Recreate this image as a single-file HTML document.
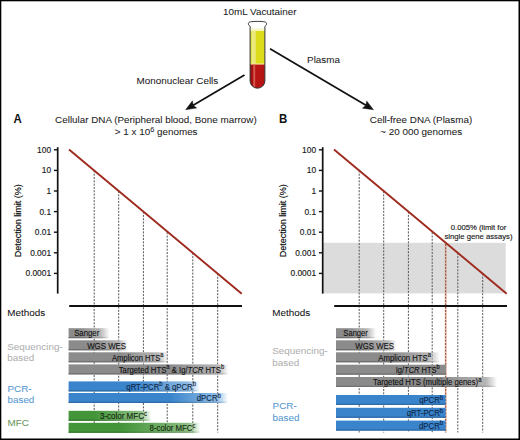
<!DOCTYPE html><html><head><meta charset="utf-8"><style>html,body{margin:0;padding:0;background:#fff;}svg{display:block;}text{font-family:"Liberation Sans", sans-serif;}</style></head><body>
<svg width="520" height="440" viewBox="0 0 520 440">
<defs>
<linearGradient id="redg" x1="0" x2="1" y1="0" y2="0"><stop offset="0" stop-color="#8a0c0c" stop-opacity="0.9"/><stop offset="0.18" stop-color="#8a0c0c" stop-opacity="0.2"/><stop offset="0.5" stop-color="#c41818" stop-opacity="0"/><stop offset="1" stop-color="#a01010" stop-opacity="0.3"/></linearGradient>
</defs>
<rect x="0" y="0" width="520" height="440" fill="#fff"/>
<text transform="translate(259.8,15.0) scale(1.05,1)" font-size="9.4" text-anchor="middle" fill="#1a1a1a" font-weight="normal"  stroke="#1a1a1a" stroke-width="0.05">10mL Vacutainer</text>
<text transform="translate(177.4,84) scale(1.05,1)" font-size="9.4" text-anchor="middle" fill="#1a1a1a" font-weight="normal"  stroke="#1a1a1a" stroke-width="0.05">Mononuclear Cells</text>
<text transform="translate(323.5,63) scale(1.05,1)" font-size="9.4" text-anchor="middle" fill="#1a1a1a" font-weight="normal"  stroke="#1a1a1a" stroke-width="0.05">Plasma</text>
<g>
<clipPath id="tubeclip"><path d="M250.1,24 L250.1,80.80000000000001 A7.3999999999999915,7.3999999999999915 0 0 0 264.9,80.80000000000001 L264.9,24 Z"/></clipPath>
<path d="M250.1,80.80000000000001 L250.1,26.8 C250.1,25.6 248.4,25.4 248.4,23.8 C248.4,21.9 250.6,21.4 257.5,21.4 C264.4,21.4 266.6,21.9 266.6,23.8 C266.6,25.4 264.9,25.6 264.9,26.8 L264.9,80.80000000000001 A7.3999999999999915,7.3999999999999915 0 0 1 250.1,80.80000000000001 Z" fill="#fff"/>
<g clip-path="url(#tubeclip)">
<rect x="250.1" y="28.2" width="14.799999999999983" height="3" fill="#f6f6cc"/>
<rect x="250.1" y="30.9" width="14.799999999999983" height="34" fill="#dcdc1a"/>
<rect x="251.5" y="30.9" width="4.2" height="33" fill="#eaea80"/>
<rect x="250.1" y="64" width="14.799999999999983" height="30" fill="#b81414"/>
<rect x="250.1" y="64" width="14.799999999999983" height="30" fill="url(#redg)"/>
<rect x="250.1" y="63.4" width="14.799999999999983" height="1.2" fill="#f0ea90"/>
<rect x="253.3" y="64.6" width="1.9" height="24" fill="#d45a50"/>
<path d="M250.1,82 A7.3999999999999915,7.3999999999999915 0 0 0 264.9,82 L264.9,90 L250.1,90 Z" fill="#8a0c0c" opacity="0.35"/>
</g>
<path d="M250.1,80.80000000000001 L250.1,26.8 C250.1,25.6 248.4,25.4 248.4,23.8 C248.4,21.9 250.6,21.4 257.5,21.4 C264.4,21.4 266.6,21.9 266.6,23.8 C266.6,25.4 264.9,25.6 264.9,26.8 L264.9,80.80000000000001 A7.3999999999999915,7.3999999999999915 0 0 1 250.1,80.80000000000001 Z" fill="none" stroke="#333" stroke-width="1.0" stroke-linejoin="round"/>
</g>
<line x1="244.5" y1="75" x2="193.18" y2="105.23" stroke="#111" stroke-width="1.7"/>
<polygon points="185.6,109.7 192.43,100.80 193.18,105.23 196.69,108.04" fill="#111" stroke="#111" stroke-width="0.4" stroke-linejoin="round"/>
<line x1="270" y1="48.7" x2="365.92" y2="105.33" stroke="#111" stroke-width="1.7"/>
<polygon points="373.5,109.8 362.41,108.13 365.92,105.33 366.68,100.90" fill="#111" stroke="#111" stroke-width="0.4" stroke-linejoin="round"/>
<text transform="translate(13.6,122.8) scale(0.91,1)" font-size="12.6" text-anchor="start" fill="#111" font-weight="bold" >A</text>
<text transform="translate(278.9,122.8) scale(0.91,1)" font-size="12.6" text-anchor="start" fill="#111" font-weight="bold" >B</text>
<text transform="translate(155.9,123.1) scale(1.05,1)" font-size="9.4" text-anchor="middle" fill="#1a1a1a" font-weight="normal"  stroke="#1a1a1a" stroke-width="0.05">Cellular DNA (Peripheral blood, Bone marrow)</text>
<text transform="translate(156.2,134.5) scale(1.05,1)" font-size="9.4" text-anchor="middle" fill="#1a1a1a" font-weight="normal"  stroke="#1a1a1a" stroke-width="0.05">&gt; 1 x 10<tspan font-size="7" dy="-3">6</tspan><tspan dy="3"> genomes</tspan></text>
<text transform="translate(421.0,123.1) scale(1.05,1)" font-size="9.4" text-anchor="middle" fill="#1a1a1a" font-weight="normal"  stroke="#1a1a1a" stroke-width="0.05">Cell-free DNA (Plasma)</text>
<text transform="translate(421.2,134.5) scale(1.05,1)" font-size="9.4" text-anchor="middle" fill="#1a1a1a" font-weight="normal"  stroke="#1a1a1a" stroke-width="0.05">~ 20 000 genomes</text>
<line x1="94.2" y1="170.4" x2="94.2" y2="432.5" stroke="#555" stroke-width="1.0" stroke-dasharray="2 1.3"/>
<line x1="118.7" y1="191.0" x2="118.7" y2="432.5" stroke="#555" stroke-width="1.0" stroke-dasharray="2 1.3"/>
<line x1="143.4" y1="211.6" x2="143.4" y2="432.5" stroke="#555" stroke-width="1.0" stroke-dasharray="2 1.3"/>
<line x1="167.2" y1="232.2" x2="167.2" y2="432.5" stroke="#555" stroke-width="1.0" stroke-dasharray="2 1.3"/>
<line x1="192.8" y1="252.8" x2="192.8" y2="432.5" stroke="#555" stroke-width="1.0" stroke-dasharray="2 1.3"/>
<line x1="217.7" y1="273.4" x2="217.7" y2="432.5" stroke="#555" stroke-width="1.0" stroke-dasharray="2 1.3"/>
<line x1="57.7" y1="147.2" x2="57.7" y2="293.6" stroke="#111" stroke-width="1.7"/>
<line x1="53.900000000000006" y1="149.8" x2="57.7" y2="149.8" stroke="#111" stroke-width="1.4"/>
<text x="51.1" y="152.8" font-size="8.4" text-anchor="end" fill="#1a1a1a" font-weight="normal" stroke="#1a1a1a" stroke-width="0.15">100</text>
<line x1="53.900000000000006" y1="170.4" x2="57.7" y2="170.4" stroke="#111" stroke-width="1.4"/>
<text x="51.1" y="173.4" font-size="8.4" text-anchor="end" fill="#1a1a1a" font-weight="normal" stroke="#1a1a1a" stroke-width="0.15">10</text>
<line x1="53.900000000000006" y1="191.0" x2="57.7" y2="191.0" stroke="#111" stroke-width="1.4"/>
<text x="51.1" y="194.0" font-size="8.4" text-anchor="end" fill="#1a1a1a" font-weight="normal" stroke="#1a1a1a" stroke-width="0.15">1</text>
<line x1="53.900000000000006" y1="211.6" x2="57.7" y2="211.6" stroke="#111" stroke-width="1.4"/>
<text x="51.1" y="214.6" font-size="8.4" text-anchor="end" fill="#1a1a1a" font-weight="normal" stroke="#1a1a1a" stroke-width="0.15">0.1</text>
<line x1="53.900000000000006" y1="232.2" x2="57.7" y2="232.2" stroke="#111" stroke-width="1.4"/>
<text x="51.1" y="235.2" font-size="8.4" text-anchor="end" fill="#1a1a1a" font-weight="normal" stroke="#1a1a1a" stroke-width="0.15">0.01</text>
<line x1="53.900000000000006" y1="252.8" x2="57.7" y2="252.8" stroke="#111" stroke-width="1.4"/>
<text x="51.1" y="255.8" font-size="8.4" text-anchor="end" fill="#1a1a1a" font-weight="normal" stroke="#1a1a1a" stroke-width="0.15">0.001</text>
<line x1="53.900000000000006" y1="273.4" x2="57.7" y2="273.4" stroke="#111" stroke-width="1.4"/>
<text x="51.1" y="276.4" font-size="8.4" text-anchor="end" fill="#1a1a1a" font-weight="normal" stroke="#1a1a1a" stroke-width="0.15">0.0001</text>
<text x="0" y="0" font-size="9.6" text-anchor="middle" fill="#000" font-weight="normal" transform="translate(21.1,220.7) rotate(-90) scale(0.94,1)" stroke="#000" stroke-width="0.14">Detection limit (%)</text>
<line x1="69" y1="149.5" x2="241.7" y2="293.7" stroke="#9e2a1e" stroke-width="1.9"/>
<line x1="69.2" y1="306" x2="242" y2="306" stroke="#111" stroke-width="1.85"/>
<text transform="translate(7.3,316.4) scale(1.05,1)" font-size="9.4" text-anchor="start" fill="#111" font-weight="normal"  stroke="#111" stroke-width="0.05">Methods</text>
<rect x="322.7" y="242.8" width="183.0" height="50.599999999999966" fill="#dcdcdc"/>
<line x1="359.2" y1="170.4" x2="359.2" y2="432.5" stroke="#555" stroke-width="1.0" stroke-dasharray="2 1.3"/>
<line x1="383.7" y1="191.0" x2="383.7" y2="432.5" stroke="#555" stroke-width="1.0" stroke-dasharray="2 1.3"/>
<line x1="408.4" y1="211.6" x2="408.4" y2="432.5" stroke="#555" stroke-width="1.0" stroke-dasharray="2 1.3"/>
<line x1="432.2" y1="232.2" x2="432.2" y2="432.5" stroke="#555" stroke-width="1.0" stroke-dasharray="2 1.3"/>
<line x1="457.8" y1="252.8" x2="457.8" y2="432.5" stroke="#555" stroke-width="1.0" stroke-dasharray="2 1.3"/>
<line x1="482.7" y1="273.4" x2="482.7" y2="432.5" stroke="#555" stroke-width="1.0" stroke-dasharray="2 1.3"/>
<line x1="445.7" y1="244" x2="445.7" y2="432.5" stroke="#eea080" stroke-width="2.0" stroke-opacity="0.6"/>
<line x1="445.7" y1="244" x2="445.7" y2="432.5" stroke="#7a4a40" stroke-width="1.0" stroke-dasharray="2 1.3"/>
<line x1="322.7" y1="147.2" x2="322.7" y2="293.6" stroke="#111" stroke-width="1.7"/>
<line x1="318.9" y1="149.8" x2="322.7" y2="149.8" stroke="#111" stroke-width="1.4"/>
<text x="316.1" y="152.8" font-size="8.4" text-anchor="end" fill="#1a1a1a" font-weight="normal" stroke="#1a1a1a" stroke-width="0.15">100</text>
<line x1="318.9" y1="170.4" x2="322.7" y2="170.4" stroke="#111" stroke-width="1.4"/>
<text x="316.1" y="173.4" font-size="8.4" text-anchor="end" fill="#1a1a1a" font-weight="normal" stroke="#1a1a1a" stroke-width="0.15">10</text>
<line x1="318.9" y1="191.0" x2="322.7" y2="191.0" stroke="#111" stroke-width="1.4"/>
<text x="316.1" y="194.0" font-size="8.4" text-anchor="end" fill="#1a1a1a" font-weight="normal" stroke="#1a1a1a" stroke-width="0.15">1</text>
<line x1="318.9" y1="211.6" x2="322.7" y2="211.6" stroke="#111" stroke-width="1.4"/>
<text x="316.1" y="214.6" font-size="8.4" text-anchor="end" fill="#1a1a1a" font-weight="normal" stroke="#1a1a1a" stroke-width="0.15">0.1</text>
<line x1="318.9" y1="232.2" x2="322.7" y2="232.2" stroke="#111" stroke-width="1.4"/>
<text x="316.1" y="235.2" font-size="8.4" text-anchor="end" fill="#1a1a1a" font-weight="normal" stroke="#1a1a1a" stroke-width="0.15">0.01</text>
<line x1="318.9" y1="252.8" x2="322.7" y2="252.8" stroke="#111" stroke-width="1.4"/>
<text x="316.1" y="255.8" font-size="8.4" text-anchor="end" fill="#1a1a1a" font-weight="normal" stroke="#1a1a1a" stroke-width="0.15">0.001</text>
<line x1="318.9" y1="273.4" x2="322.7" y2="273.4" stroke="#111" stroke-width="1.4"/>
<text x="316.1" y="276.4" font-size="8.4" text-anchor="end" fill="#1a1a1a" font-weight="normal" stroke="#1a1a1a" stroke-width="0.15">0.0001</text>
<text x="0" y="0" font-size="9.6" text-anchor="middle" fill="#000" font-weight="normal" transform="translate(286.1,220.7) rotate(-90) scale(0.94,1)" stroke="#000" stroke-width="0.14">Detection limit (%)</text>
<line x1="334" y1="149.5" x2="506.7" y2="293.7" stroke="#9e2a1e" stroke-width="1.9"/>
<line x1="334.2" y1="306" x2="507" y2="306" stroke="#111" stroke-width="1.85"/>
<text transform="translate(272.3,316.4) scale(1.05,1)" font-size="9.4" text-anchor="start" fill="#111" font-weight="normal"  stroke="#111" stroke-width="0.05">Methods</text>
<text x="478.5" y="229.5" font-size="7.7" text-anchor="middle" fill="#1a1a1a" font-weight="normal" stroke="#1a1a1a" stroke-width="0.15">0.005% (limit for</text>
<text x="478.5" y="238.6" font-size="7.7" text-anchor="middle" fill="#1a1a1a" font-weight="normal" stroke="#1a1a1a" stroke-width="0.15">single gene assays)</text>
<text transform="translate(7.3,349.6) scale(1.05,1)" font-size="9.4" text-anchor="start" fill="#b0b0b0" font-weight="normal"  stroke="#b0b0b0" stroke-width="0.05">Sequencing-</text>
<text transform="translate(7.3,360.7) scale(1.05,1)" font-size="9.4" text-anchor="start" fill="#b0b0b0" font-weight="normal"  stroke="#b0b0b0" stroke-width="0.05">based</text>
<text transform="translate(7.5,392.3) scale(1.05,1)" font-size="9.4" text-anchor="start" fill="#5597d2" font-weight="normal"  stroke="#5597d2" stroke-width="0.05">PCR-</text>
<text transform="translate(7.5,403.4) scale(1.05,1)" font-size="9.4" text-anchor="start" fill="#5597d2" font-weight="normal"  stroke="#5597d2" stroke-width="0.05">based</text>
<text transform="translate(7.5,425.6) scale(1.05,1)" font-size="9.4" text-anchor="start" fill="#68965c" font-weight="normal"  stroke="#68965c" stroke-width="0.05">MFC</text>
<text transform="translate(272.3,354.2) scale(1.05,1)" font-size="9.4" text-anchor="start" fill="#b0b0b0" font-weight="normal"  stroke="#b0b0b0" stroke-width="0.05">Sequencing-</text>
<text transform="translate(272.3,365.5) scale(1.05,1)" font-size="9.4" text-anchor="start" fill="#b0b0b0" font-weight="normal"  stroke="#b0b0b0" stroke-width="0.05">based</text>
<text transform="translate(272.6,409) scale(1.05,1)" font-size="9.4" text-anchor="start" fill="#5597d2" font-weight="normal"  stroke="#5597d2" stroke-width="0.05">PCR-</text>
<text transform="translate(272.6,420.6) scale(1.05,1)" font-size="9.4" text-anchor="start" fill="#5597d2" font-weight="normal"  stroke="#5597d2" stroke-width="0.05">based</text>
<defs><linearGradient id="g1" x1="0" x2="1" y1="0" y2="0"><stop offset="0" stop-color="#8b8b8b"/><stop offset="0.279" stop-color="#8b8b8b"/><stop offset="0.768" stop-color="#b6b6b6"/><stop offset="1" stop-color="#b6b6b6" stop-opacity="0"/></linearGradient>
<linearGradient id="g1d" x1="0" x2="1" y1="0" y2="0"><stop offset="0" stop-color="#717171"/><stop offset="0.279" stop-color="#717171"/><stop offset="0.768" stop-color="#a0a0a0"/><stop offset="1" stop-color="#a0a0a0" stop-opacity="0"/></linearGradient></defs>
<rect x="68.6" y="328.2" width="40.900000000000006" height="10" fill="url(#g1)"/>
<rect x="68.6" y="336.90" width="40.900000000000006" height="1.3" fill="url(#g1d)"/>
<text x="74.15" y="336.40" font-size="8.6" textLength="25.10" lengthAdjust="spacingAndGlyphs" fill="#111" stroke="#111" stroke-width="0.12">Sanger</text>
<defs><linearGradient id="g2" x1="0" x2="1" y1="0" y2="0"><stop offset="0" stop-color="#8b8b8b"/><stop offset="0.444" stop-color="#8b8b8b"/><stop offset="0.848" stop-color="#b6b6b6"/><stop offset="1" stop-color="#b6b6b6" stop-opacity="0"/></linearGradient>
<linearGradient id="g2d" x1="0" x2="1" y1="0" y2="0"><stop offset="0" stop-color="#717171"/><stop offset="0.444" stop-color="#717171"/><stop offset="0.848" stop-color="#a0a0a0"/><stop offset="1" stop-color="#a0a0a0" stop-opacity="0"/></linearGradient></defs>
<rect x="68.6" y="340.3" width="59.400000000000006" height="10" fill="url(#g2)"/>
<rect x="68.6" y="349.00" width="59.400000000000006" height="1.3" fill="url(#g2d)"/>
<text x="87.15" y="348.50" font-size="8.6" textLength="39.00" lengthAdjust="spacingAndGlyphs" fill="#111" stroke="#111" stroke-width="0.12">WGS WES</text>
<defs><linearGradient id="g3" x1="0" x2="1" y1="0" y2="0"><stop offset="0" stop-color="#8b8b8b"/><stop offset="0.517" stop-color="#8b8b8b"/><stop offset="0.899" stop-color="#b6b6b6"/><stop offset="1" stop-color="#b6b6b6" stop-opacity="0"/></linearGradient>
<linearGradient id="g3d" x1="0" x2="1" y1="0" y2="0"><stop offset="0" stop-color="#717171"/><stop offset="0.517" stop-color="#717171"/><stop offset="0.899" stop-color="#a0a0a0"/><stop offset="1" stop-color="#a0a0a0" stop-opacity="0"/></linearGradient></defs>
<rect x="68.6" y="352.3" width="99.4" height="10" fill="url(#g3)"/>
<rect x="68.6" y="361.00" width="99.4" height="1.3" fill="url(#g3d)"/>
<text x="111.95" y="360.50" font-size="8.6" textLength="51.50" lengthAdjust="spacingAndGlyphs" fill="#111" stroke="#111" stroke-width="0.12">Amplicon HTS<tspan font-size="6.6" dy="-3.5">a</tspan></text>
<defs><linearGradient id="g4" x1="0" x2="1" y1="0" y2="0"><stop offset="0" stop-color="#8b8b8b"/><stop offset="0.634" stop-color="#8b8b8b"/><stop offset="0.934" stop-color="#b6b6b6"/><stop offset="1" stop-color="#b6b6b6" stop-opacity="0"/></linearGradient>
<linearGradient id="g4d" x1="0" x2="1" y1="0" y2="0"><stop offset="0" stop-color="#717171"/><stop offset="0.634" stop-color="#717171"/><stop offset="0.934" stop-color="#a0a0a0"/><stop offset="1" stop-color="#a0a0a0" stop-opacity="0"/></linearGradient></defs>
<rect x="68.6" y="364.4" width="159.9" height="10" fill="url(#g4)"/>
<rect x="68.6" y="373.10" width="159.9" height="1.3" fill="url(#g4d)"/>
<text x="118.75" y="372.60" font-size="8.6" textLength="105.50" lengthAdjust="spacingAndGlyphs" fill="#111" stroke="#111" stroke-width="0.12">Targeted HTS<tspan font-size="6.6" dy="-3.5">a</tspan><tspan dy="3.5"> &amp; Ig/<tspan font-style="italic">TCR</tspan> HTS<tspan font-size="6.6" dy="-3.5">b</tspan></tspan></text>
<defs><linearGradient id="g5" x1="0" x2="1" y1="0" y2="0"><stop offset="0" stop-color="#3a84cc"/><stop offset="0.505" stop-color="#3a84cc"/><stop offset="0.909" stop-color="#8cbbe4"/><stop offset="1" stop-color="#8cbbe4" stop-opacity="0"/></linearGradient>
<linearGradient id="g5d" x1="0" x2="1" y1="0" y2="0"><stop offset="0" stop-color="#2f6ca7"/><stop offset="0.505" stop-color="#2f6ca7"/><stop offset="0.909" stop-color="#7ba4c8"/><stop offset="1" stop-color="#7ba4c8" stop-opacity="0"/></linearGradient></defs>
<rect x="68.6" y="381.4" width="131.4" height="10" fill="url(#g5)"/>
<rect x="68.6" y="390.10" width="131.4" height="1.3" fill="url(#g5d)"/>
<text x="126.35" y="389.60" font-size="8.6" textLength="69.60" lengthAdjust="spacingAndGlyphs" fill="#0f2747" stroke="#0f2747" stroke-width="0.12">qRT-PCR<tspan font-size="6.6" dy="-3.5">b</tspan><tspan dy="3.5"> &amp; qPCR<tspan font-size="6.6" dy="-3.5">b</tspan></tspan></text>
<defs><linearGradient id="g6" x1="0" x2="1" y1="0" y2="0"><stop offset="0" stop-color="#3a84cc"/><stop offset="0.636" stop-color="#3a84cc"/><stop offset="0.925" stop-color="#8cbbe4"/><stop offset="1" stop-color="#8cbbe4" stop-opacity="0"/></linearGradient>
<linearGradient id="g6d" x1="0" x2="1" y1="0" y2="0"><stop offset="0" stop-color="#2f6ca7"/><stop offset="0.636" stop-color="#2f6ca7"/><stop offset="0.925" stop-color="#7ba4c8"/><stop offset="1" stop-color="#7ba4c8" stop-opacity="0"/></linearGradient></defs>
<rect x="68.6" y="393.0" width="159.4" height="10" fill="url(#g6)"/>
<rect x="68.6" y="401.70" width="159.4" height="1.3" fill="url(#g6d)"/>
<text x="196.75" y="401.20" font-size="8.6" textLength="24.10" lengthAdjust="spacingAndGlyphs" fill="#0f2747" stroke="#0f2747" stroke-width="0.12">dPCR<tspan font-size="6.6" dy="-3.5">b</tspan></text>
<defs><linearGradient id="g7" x1="0" x2="1" y1="0" y2="0"><stop offset="0" stop-color="#44953a"/><stop offset="0.318" stop-color="#44953a"/><stop offset="0.861" stop-color="#8cbf84"/><stop offset="1" stop-color="#8cbf84" stop-opacity="0"/></linearGradient>
<linearGradient id="g7d" x1="0" x2="1" y1="0" y2="0"><stop offset="0" stop-color="#377a2f"/><stop offset="0.318" stop-color="#377a2f"/><stop offset="0.861" stop-color="#7ba874"/><stop offset="1" stop-color="#7ba874" stop-opacity="0"/></linearGradient></defs>
<rect x="68.6" y="410.8" width="82.9" height="10" fill="url(#g7)"/>
<rect x="68.6" y="419.50" width="82.9" height="1.3" fill="url(#g7d)"/>
<text x="99.95" y="419.00" font-size="8.6" textLength="47.10" lengthAdjust="spacingAndGlyphs" fill="#14280e" stroke="#14280e" stroke-width="0.12">3-color MFC<tspan font-size="6.6" dy="-3.5">c</tspan></text>
<defs><linearGradient id="g8" x1="0" x2="1" y1="0" y2="0"><stop offset="0" stop-color="#44953a"/><stop offset="0.405" stop-color="#44953a"/><stop offset="0.905" stop-color="#8cbf84"/><stop offset="1" stop-color="#8cbf84" stop-opacity="0"/></linearGradient>
<linearGradient id="g8d" x1="0" x2="1" y1="0" y2="0"><stop offset="0" stop-color="#377a2f"/><stop offset="0.405" stop-color="#377a2f"/><stop offset="0.905" stop-color="#7ba874"/><stop offset="1" stop-color="#7ba874" stop-opacity="0"/></linearGradient></defs>
<rect x="68.6" y="422.8" width="131.9" height="10" fill="url(#g8)"/>
<rect x="68.6" y="431.50" width="131.9" height="1.3" fill="url(#g8d)"/>
<text x="149.55" y="431.00" font-size="8.6" textLength="45.90" lengthAdjust="spacingAndGlyphs" fill="#14280e" stroke="#14280e" stroke-width="0.12">8-color MFC<tspan font-size="6.6" dy="-3.5">c</tspan></text>
<defs><linearGradient id="g9" x1="0" x2="1" y1="0" y2="0"><stop offset="0" stop-color="#8b8b8b"/><stop offset="0.300" stop-color="#8b8b8b"/><stop offset="0.775" stop-color="#b6b6b6"/><stop offset="1" stop-color="#b6b6b6" stop-opacity="0"/></linearGradient>
<linearGradient id="g9d" x1="0" x2="1" y1="0" y2="0"><stop offset="0" stop-color="#717171"/><stop offset="0.300" stop-color="#717171"/><stop offset="0.775" stop-color="#a0a0a0"/><stop offset="1" stop-color="#a0a0a0" stop-opacity="0"/></linearGradient></defs>
<rect x="336.0" y="328.2" width="40.0" height="10" fill="url(#g9)"/>
<rect x="336.0" y="336.90" width="40.0" height="1.3" fill="url(#g9d)"/>
<text x="343.35" y="336.40" font-size="8.6" textLength="24.50" lengthAdjust="spacingAndGlyphs" fill="#111" stroke="#111" stroke-width="0.12">Sanger</text>
<defs><linearGradient id="g10" x1="0" x2="1" y1="0" y2="0"><stop offset="0" stop-color="#8b8b8b"/><stop offset="0.430" stop-color="#8b8b8b"/><stop offset="0.860" stop-color="#b6b6b6"/><stop offset="1" stop-color="#b6b6b6" stop-opacity="0"/></linearGradient>
<linearGradient id="g10d" x1="0" x2="1" y1="0" y2="0"><stop offset="0" stop-color="#717171"/><stop offset="0.430" stop-color="#717171"/><stop offset="0.860" stop-color="#a0a0a0"/><stop offset="1" stop-color="#a0a0a0" stop-opacity="0"/></linearGradient></defs>
<rect x="336.0" y="340.3" width="60.5" height="10" fill="url(#g10)"/>
<rect x="336.0" y="349.00" width="60.5" height="1.3" fill="url(#g10d)"/>
<text x="355.35" y="348.50" font-size="8.6" textLength="38.60" lengthAdjust="spacingAndGlyphs" fill="#111" stroke="#111" stroke-width="0.12">WGS WES</text>
<defs><linearGradient id="g11" x1="0" x2="1" y1="0" y2="0"><stop offset="0" stop-color="#8b8b8b"/><stop offset="0.538" stop-color="#8b8b8b"/><stop offset="0.885" stop-color="#b6b6b6"/><stop offset="1" stop-color="#b6b6b6" stop-opacity="0"/></linearGradient>
<linearGradient id="g11d" x1="0" x2="1" y1="0" y2="0"><stop offset="0" stop-color="#717171"/><stop offset="0.538" stop-color="#717171"/><stop offset="0.885" stop-color="#a0a0a0"/><stop offset="1" stop-color="#a0a0a0" stop-opacity="0"/></linearGradient></defs>
<rect x="336.0" y="352.3" width="104.0" height="10" fill="url(#g11)"/>
<rect x="336.0" y="361.00" width="104.0" height="1.3" fill="url(#g11d)"/>
<text x="378.30" y="360.50" font-size="8.6" textLength="52.75" lengthAdjust="spacingAndGlyphs" fill="#111" stroke="#111" stroke-width="0.12">Amplicon HTS<tspan font-size="6.6" dy="-3.5">a</tspan></text>
<rect x="336.0" y="364.7" width="110.0" height="10" fill="#8b8b8b"/>
<rect x="336.0" y="373.40" width="110.0" height="1.3" fill="#717171"/>
<text x="395.75" y="372.90" font-size="8.6" textLength="43.90" lengthAdjust="spacingAndGlyphs" fill="#111" stroke="#111" stroke-width="0.12">Ig/<tspan font-style="italic">TCR</tspan> HTS<tspan font-size="6.6" dy="-3.5">b</tspan></text>
<defs><linearGradient id="g12" x1="0" x2="1" y1="0" y2="0"><stop offset="0" stop-color="#8b8b8b"/><stop offset="0.646" stop-color="#8b8b8b"/><stop offset="0.932" stop-color="#b6b6b6"/><stop offset="1" stop-color="#b6b6b6" stop-opacity="0"/></linearGradient>
<linearGradient id="g12d" x1="0" x2="1" y1="0" y2="0"><stop offset="0" stop-color="#717171"/><stop offset="0.646" stop-color="#717171"/><stop offset="0.932" stop-color="#a0a0a0"/><stop offset="1" stop-color="#a0a0a0" stop-opacity="0"/></linearGradient></defs>
<rect x="336.0" y="377.0" width="161.0" height="10" fill="url(#g12)"/>
<rect x="336.0" y="385.70" width="161.0" height="1.3" fill="url(#g12d)"/>
<text x="373.05" y="385.20" font-size="8.6" textLength="108.40" lengthAdjust="spacingAndGlyphs" fill="#111" stroke="#111" stroke-width="0.12">Targeted HTS (multiple genes)<tspan font-size="6.6" dy="-3.5">a</tspan></text>
<rect x="336.0" y="395.0" width="109.60000000000002" height="10" fill="#3a84cc"/>
<rect x="336.0" y="403.70" width="109.60000000000002" height="1.3" fill="#2f6ca7"/>
<text x="419.15" y="403.20" font-size="8.6" textLength="24.00" lengthAdjust="spacingAndGlyphs" fill="#0f2747" stroke="#0f2747" stroke-width="0.12">qPCR<tspan font-size="6.6" dy="-3.5">b</tspan></text>
<rect x="336.0" y="407.8" width="109.60000000000002" height="10" fill="#3a84cc"/>
<rect x="336.0" y="416.50" width="109.60000000000002" height="1.3" fill="#2f6ca7"/>
<text x="406.75" y="416.00" font-size="8.6" textLength="36.40" lengthAdjust="spacingAndGlyphs" fill="#0f2747" stroke="#0f2747" stroke-width="0.12">qRT-PCR<tspan font-size="6.6" dy="-3.5">b</tspan></text>
<rect x="336.0" y="420.6" width="109.60000000000002" height="10" fill="#3a84cc"/>
<rect x="336.0" y="429.30" width="109.60000000000002" height="1.3" fill="#2f6ca7"/>
<text x="418.95" y="428.80" font-size="8.6" textLength="24.20" lengthAdjust="spacingAndGlyphs" fill="#0f2747" stroke="#0f2747" stroke-width="0.12">dPCR<tspan font-size="6.6" dy="-3.5">b</tspan></text>
<rect x="0" y="0" width="520" height="1" fill="#000"/><rect x="0" y="1" width="520" height="1" fill="#000" fill-opacity="0.3"/>
<rect x="0" y="0" width="1" height="440" fill="#000"/><rect x="1" y="0" width="1" height="440" fill="#000" fill-opacity="0.3"/>
<rect x="519" y="0" width="1" height="440" fill="#000"/><rect x="518" y="0" width="1" height="440" fill="#000" fill-opacity="0.5"/>
<rect x="0" y="439" width="520" height="1" fill="#000"/><rect x="0" y="438" width="520" height="1" fill="#000" fill-opacity="0.5"/>
</svg></body></html>
